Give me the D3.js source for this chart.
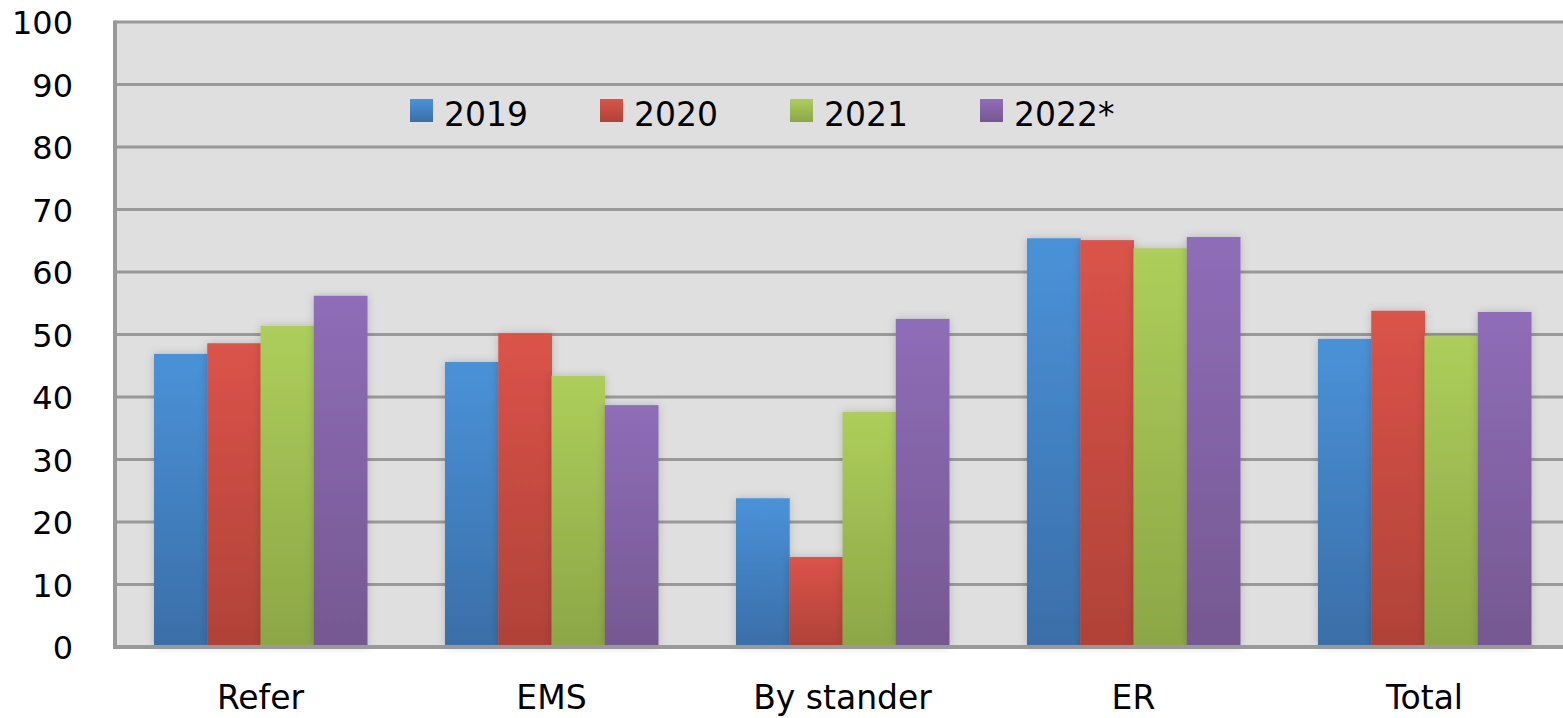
<!DOCTYPE html>
<html>
<head>
<meta charset="utf-8">
<script src="https://cdn.jsdelivr.net/npm/d3@7"></script>
<style>
  body { margin: 0; background: #fff; }
  svg { display: block; font-family: "DejaVu Sans", "Noto Sans", sans-serif; }
</style>
</head>
<body>
<svg></svg>
<script>
let width = 1563, height = 718;

// data
let categories = ["Refer", "EMS", "By stander", "ER", "Total"];
let years = ["2019", "2020", "2021", "2022*"];
let v2019 = [46.9, 45.6, 23.8, 65.4, 49.3];
let v2020 = [48.6, 50.2, 14.4, 65.1, 53.8];
let v2021 = [51.4, 43.4, 37.6, 63.8, 49.8];
let v2022 = [56.2, 38.7, 52.5, 65.6, 53.6];
let yTicks = [0, 10, 20, 30, 40, 50, 60, 70, 80, 90, 100];

let series = [v2019, v2020, v2021, v2022];
let colorsTop = ["#4a92d8", "#db5349", "#adce5b", "#8f6db8"];
let colorsBottom = ["#3a6ea8", "#b04238", "#8ca646", "#755891"];

let margin = {left: 115, right: -7, top: 22, bottom: 71};

let svg = d3.select("svg")
    .attr("width", width)
    .attr("height", height);

let defs = svg.append("defs");
years.forEach((y, i) => {
    let g = defs.append("linearGradient")
        .attr("id", "grad" + i)
        .attr("x1", 0).attr("y1", 0).attr("x2", 0).attr("y2", 1);
    g.append("stop").attr("offset", "0%").attr("stop-color", colorsTop[i]);
    g.append("stop").attr("offset", "100%").attr("stop-color", colorsBottom[i]);
});
let shadow = defs.append("filter").attr("id", "shadow")
    .attr("x", "-20%").attr("y", "-20%").attr("width", "140%").attr("height", "140%");
shadow.append("feDropShadow")
    .attr("dx", 0).attr("dy", 0).attr("stdDeviation", 4)
    .attr("flood-color", "#000").attr("flood-opacity", 0.18);

// plot runs a little past the right edge of the picture
let x = d3.scaleBand()
    .domain(categories)
    .range([margin.left, width - margin.right])
    .paddingInner(0.268)
    .paddingOuter(0.134);

let xs = d3.scaleBand()
    .domain(d3.range(years.length))
    .range([0, x.bandwidth()]);

let y = d3.scaleLinear()
    .domain([0, 100])
    .range([height - margin.bottom, margin.top]);

// plot background
svg.append("rect")
    .attr("x", margin.left)
    .attr("y", margin.top)
    .attr("width", width - margin.left)
    .attr("height", y(0) - margin.top)
    .attr("fill", "#dfdfdf");

// gridlines
svg.append("g")
    .selectAll("line")
    .data(yTicks.filter(d => d > 0))
    .enter()
    .append("line")
    .attr("x1", margin.left)
    .attr("x2", width)
    .attr("y1", d => y(d))
    .attr("y2", d => y(d))
    .attr("stroke", "#999")
    .attr("stroke-width", 3);

// left axis line
svg.append("line")
    .attr("x1", margin.left).attr("x2", margin.left)
    .attr("y1", margin.top - 1.5).attr("y2", y(0) + 1.5)
    .attr("stroke", "#999").attr("stroke-width", 4);

// bars
let groups = svg.append("g")
    .selectAll("g")
    .data(categories)
    .enter()
    .append("g")
    .attr("transform", d => "translate(" + x(d) + ",0)");

groups.selectAll("rect")
    .data((c, ci) => series.map((s, si) => ({si: si, v: s[ci]})))
    .enter()
    .append("rect")
    .attr("x", d => xs(d.si))
    .attr("width", xs.bandwidth() + 0.5)
    .attr("y", d => y(d.v))
    .attr("height", d => y(0) - y(d.v))
    .attr("fill", d => "url(#grad" + d.si + ")")
    .attr("filter", "url(#shadow)");

// bottom axis line
svg.append("line")
    .attr("x1", margin.left - 2).attr("x2", width)
    .attr("y1", y(0)).attr("y2", y(0))
    .attr("stroke", "#999").attr("stroke-width", 4);

// y tick labels
svg.append("g")
    .selectAll("text")
    .data(yTicks)
    .enter()
    .append("text")
    .attr("x", 73)
    .attr("y", d => y(d) + 12)
    .attr("text-anchor", "end")
    .attr("font-size", 32)
    .attr("fill", "#000")
    .text(d => d);

// x labels
svg.append("g")
    .selectAll("text")
    .data(categories)
    .enter()
    .append("text")
    .attr("x", d => x(d) + x.bandwidth() / 2)
    .attr("y", 709)
    .attr("text-anchor", "middle")
    .attr("font-size", 33)
    .attr("fill", "#000")
    .text(d => d);

// legend
let legend = svg.append("g")
    .selectAll("g")
    .data(years)
    .enter()
    .append("g")
    .attr("transform", (d, i) => "translate(" + (410 + i * 190) + ",99)");

legend.append("rect")
    .attr("width", 23).attr("height", 23)
    .attr("fill", (d, i) => "url(#grad" + i + ")");

legend.append("text")
    .attr("x", 34)
    .attr("y", 27)
    .attr("font-size", 33)
    .attr("fill", "#000")
    .text(d => d);
</script>
</body>
</html>
